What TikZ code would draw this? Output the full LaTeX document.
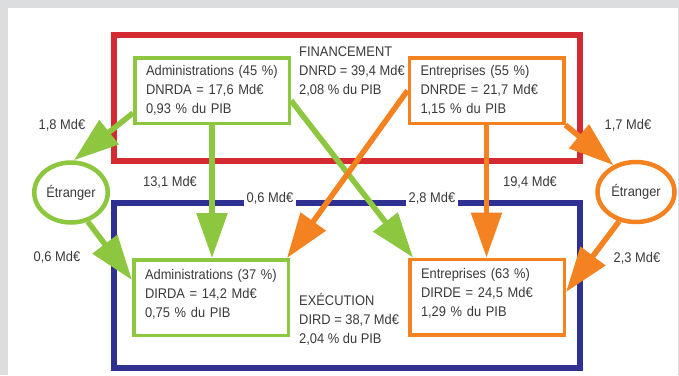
\documentclass[tikz,border=0pt]{standalone}
\usepackage{fontspec}
\setmainfont{Liberation Sans}[FakeStretch=0.92]
\usetikzlibrary{arrows.meta,shapes.geometric}
\definecolor{finred}{HTML}{D42A31}
\definecolor{exeblue}{HTML}{2E3192}
\definecolor{admgreen}{HTML}{8DC63F}
\definecolor{entorange}{HTML}{F58220}
\definecolor{txtgray}{HTML}{3A3A3A}
\definecolor{bggray}{HTML}{DCDDDF}
\begin{document}
\begin{tikzpicture}[x=1pt,y=-1pt,
    every node/.style={font=\fontsize{14}{19}\selectfont,text=txtgray},
    sector/.style={draw=#1,line width=3.5pt,align=left,inner xsep=0pt,inner ysep=0pt,
        minimum width=154.5pt,text width=132pt},
    abroad/.style={draw=#1,line width=4.5pt,ellipse,inner sep=0pt,minimum height=60pt},
    flow/.style={draw=#1,line width=5.5pt,-{Triangle[length=45pt,width=30pt,fill=#1]}},
    amount/.style={fill=white,inner sep=3pt}]
    \pgfmathsetmacro{\xl}{113.5}
    \pgfmathsetmacro{\xr}{579.5}
    % background
    \useasboundingbox (0,0) rectangle (679,375);
    \fill[bggray] (0,0) rectangle (679,375);
    \fill[white] (8,8) rectangle (678,375);
    % financement / execution frames
    \draw[finred,line width=6pt] (\xl,34.5) rectangle (\xr,161);
    \draw[exeblue,line width=6pt] (\xl,202.5) rectangle (\xr,367.5);
    \node[anchor=north west,inner sep=0pt,align=left] (fin) at (299,47)
        {FINANCEMENT\\DNRD = 39,4 Md€\\2,08 \% du PIB};
    \node[anchor=north west,inner sep=0pt,align=left] (exe) at (299,293.5)
        {EXÉCUTION\\DIRD = 38,7 Md€\\2,04 \% du PIB};
    % amounts
    \foreach \nm/\x/\y/\v in {aGE/62/125/{1,8}, aAA/170/182/{13,1}, aEA/270/198/{0,6},
        aAE/432/198/{2,8}, aEE/530/182/{19,4}, aEF/628/125/{1,7},
        aGA/57/257/{0,6}, aFE/637/258/{2,3}} {
        \node[amount] (\nm) at (\x,\y) {\v\ Md€};
    }
    % sectors
    \node[sector=admgreen,minimum height=65.5pt] (finA) at (212,90.5)
        {Administrations (45 \%)\\DNRDA = 17,6 Md€\\0,93 \% du PIB};
    \node[sector=entorange,minimum height=65.5pt] (finE) at (486.5,90.5)
        {Entreprises (55 \%)\\DNRDE = 21,7 Md€\\1,15 \% du PIB};
    \node[sector=admgreen,minimum height=75.5pt,text depth=47pt] (exeA) at (211,297.5)
        {Administrations (37 \%)\\DIRDA = 14,2 Md€\\0,75 \% du PIB};
    \node[sector=entorange,minimum height=75.5pt,text depth=47pt] (exeE) at (487,297)
        {Entreprises (63 \%)\\DIRDE = 24,5 Md€\\1,29 \% du PIB};
    \node[abroad=admgreen,minimum width=73.5pt] (etrG) at (71,192.5) {Étranger};
    \node[abroad=entorange,minimum width=77pt] (etrE) at (636,192) {Étranger};
    % flows
    \draw[flow=admgreen] ([yshift=12pt]finA.south west) -- ([xshift=3pt]etrG.north);
    \draw[flow=admgreen] (finA.south) -- (finA.south |- exeA.north);
    \draw[flow=admgreen] ([yshift=-10pt]finA.east) -- ([xshift=5pt]exeE.north west);
    \draw[flow=admgreen] (etrG.-60) -- ([yshift=-22pt]exeA.north west);
    \draw[flow=entorange] (finE.west) -- ([xshift=-3pt]exeA.north east);
    \draw[flow=entorange] (finE.south) -- (finE.south |- exeE.north);
    \draw[flow=entorange] (finE.south east) -- (etrE.130);
    \draw[flow=entorange] (etrE.-120) -- ([yshift=5pt]exeE.east);
\end{tikzpicture}
\end{document}
